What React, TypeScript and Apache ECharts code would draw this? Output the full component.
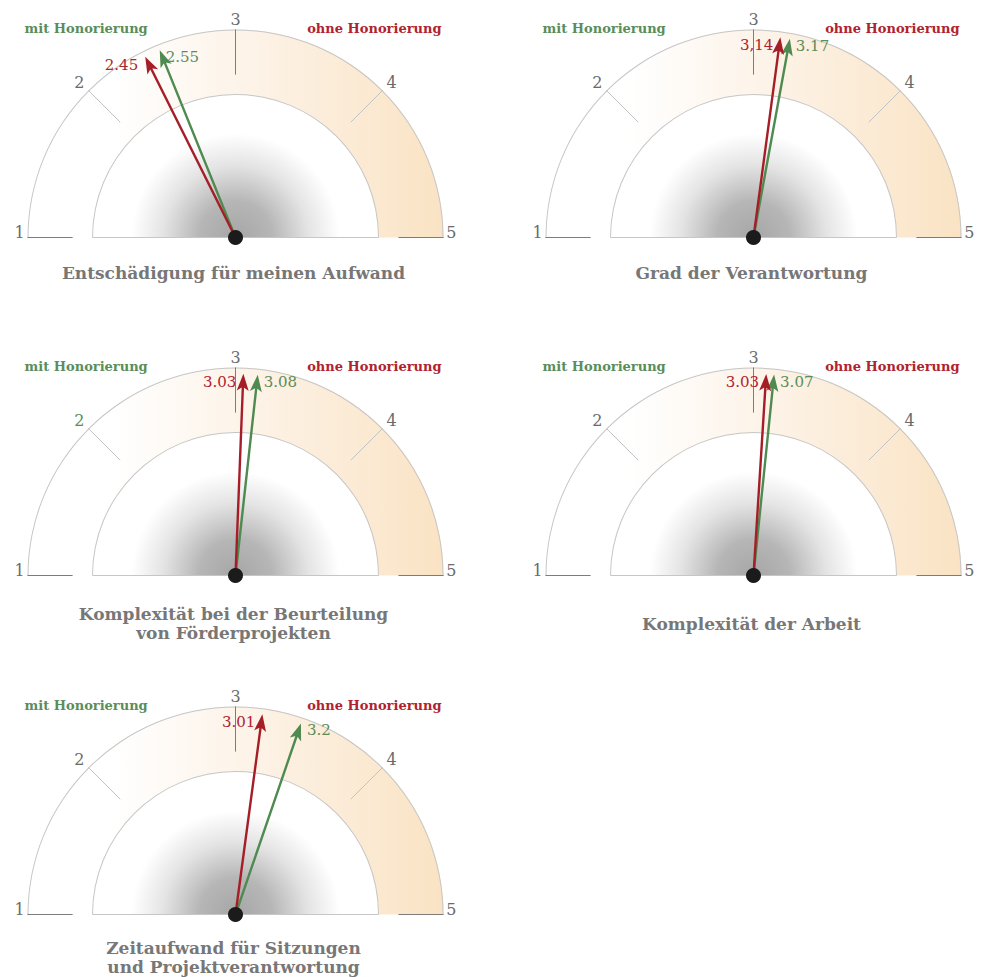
import React, { useEffect, useRef } from 'react';
import * as echarts from 'echarts';

// ---------- data ----------
const titles = [
  'Entschädigung für meinen Aufwand',
  'Grad der Verantwortung',
  'Komplexität bei der Beurteilung\nvon Förderprojekten',
  'Komplexität der Arbeit',
  'Zeitaufwand für Sitzungen\nund Projektverantwortung',
];
// needle positions as drawn
const ohneValues = [2.41, 3.17, 3.05, 3.08, 3.17];
const mitValues = [2.51, 3.23, 3.14, 3.13, 3.42];
// value labels as printed
const ohneLabels = ['2.45', '3,14', '3.03', '3.03', '3.01'];
const mitLabels = ['2.55', '3.17', '3.08', '3.07', '3.2'];
const scaleMin = 1;
const scaleMax = 5;
const tickLabels = ['1', '2', '3', '4', '5'];
const legendMit = 'mit Honorierung';
const legendOhne = 'ohne Honorierung';
const greenTick2 = [false, false, true, false, false];

// ---------- style / layout ----------
const FONT = '"DejaVu Serif", serif';
const GREEN = '#4f8a50';
const RED = '#a51e27';
const GREEN_TXT = '#5a8d5a';
const RED_TXT = '#b0232e';
const TICK_TXT = '#6b6b6b';
const CXS = [235.5, 753.5];
const CYS = [237.5, 575.5, 914.5];
const TITLE_DY = [35, 35, 48, 48, 43];
const R_OUT = 208;
const R_IN = 143;
const NEEDLE = 202;
const ARROW =
  'path://M6 0 L12 17 L6 13 L0 17 Z M4.8 12 L7.2 12 L7.2 202 L4.8 202 Z';

function baseGauge(cx: number, cy: number, r: number): any {
  return {
    type: 'gauge',
    center: [cx, cy],
    radius: r,
    startAngle: 180,
    endAngle: 0,
    min: scaleMin,
    max: scaleMax,
    splitNumber: 4,
    silent: true,
    axisLine: { show: false, lineStyle: { width: 0 } },
    splitLine: { show: false, length: 0, distance: 0 },
    axisTick: { show: false },
    axisLabel: { show: false },
    pointer: { show: false },
    anchor: { show: false },
    title: { show: false },
    detail: { show: false },
    progress: { show: false },
    data: [{ value: scaleMin }],
  };
}

function tickLabelGauge(
  cx: number,
  cy: number,
  radius: number,
  which: number[],
  padding: number[],
  greenIdx: number
): any {
  const tok = { fontSize: 16, fontFamily: FONT, padding };
  return {
    ...baseGauge(cx, cy, R_OUT),
    splitNumber: 4,
    axisLabel: {
      show: true,
      color: TICK_TXT,
      fontSize: 16,
      fontFamily: FONT,
      distance: R_OUT - radius,
      formatter: (v: number) => {
        const idx = Math.round(v) - scaleMin;
        if (which.indexOf(idx) < 0) return '';
        return (idx === greenIdx ? '{g|' : '{p|') + tickLabels[idx] + '}';
      },
      rich: {
        p: { ...tok, color: TICK_TXT },
        g: { ...tok, color: GREEN_TXT },
      },
    },
  };
}

function buildSeries(i: number, cx: number, cy: number): any[] {
  const s: any[] = [];
  // inner shaded half disc
  s.push({
    ...baseGauge(cx, cy, R_IN),
    axisLine: {
      show: true,
      lineStyle: {
        width: R_IN,
        color: [
          [
            1,
            new echarts.graphic.RadialGradient(
              cx,
              cy,
              104,
              [
                { offset: 0, color: '#a6a6a6' },
                { offset: 0.35, color: '#b6b6b6' },
                { offset: 0.7, color: '#e4e4e4' },
                { offset: 1, color: '#ffffff' },
              ],
              true
            ),
          ],
        ],
      },
    },
  });
  // coloured band
  s.push({
    ...baseGauge(cx, cy, R_OUT),
    axisLine: {
      show: true,
      lineStyle: {
        width: R_OUT - R_IN,
        color: [
          [
            1,
            new echarts.graphic.LinearGradient(
              cx - R_OUT,
              0,
              cx + R_OUT,
              0,
              [
                { offset: 0, color: '#ffffff' },
                { offset: 0.2, color: '#ffffff' },
                { offset: 0.5, color: '#fdf4ea' },
                { offset: 1, color: '#fae3c4' },
              ],
              true
            ),
          ],
        ],
      },
    },
  });
  // outer and inner outlines
  s.push({
    ...baseGauge(cx, cy, R_OUT),
    axisLine: { show: true, lineStyle: { width: 1, color: [[1, '#c6c6c6']] } },
  });
  s.push({
    ...baseGauge(cx, cy, R_IN + 0.5),
    axisLine: { show: true, lineStyle: { width: 1, color: [[1, '#c6c6c6']] } },
  });
  // base line of the inner disc
  s.push({
    ...baseGauge(cx, cy, R_IN),
    splitNumber: 1,
    splitLine: { show: true, length: R_IN, distance: 0, lineStyle: { color: '#c6c6c6', width: 1 } },
  });
  // light ticks
  s.push({
    ...baseGauge(cx, cy, R_OUT),
    splitNumber: 4,
    splitLine: { show: true, length: 45, distance: 0, lineStyle: { color: '#c2c2c2', width: 1 } },
  });
  // dark ticks at 1, 3, 5
  s.push({
    ...baseGauge(cx, cy, R_OUT),
    splitNumber: 2,
    splitLine: { show: true, length: 45, distance: 0, lineStyle: { color: '#7c7c7c', width: 1 } },
  });
  const gIdx = greenTick2[i] ? 1 : -1;
  // tick labels
  s.push(tickLabelGauge(cx, cy, 221, [0, 4], [0, 0, 10, 0], gIdx));
  s.push(tickLabelGauge(cx, cy, 228, [1, 3], [12, 0, 0, 0], gIdx));
  s.push(tickLabelGauge(cx, cy, 226, [2], [0, 0, 0, 0], gIdx));
  // needles
  const W = 60;
  const tip = (v: number) => {
    const th = (Math.PI * (scaleMax - v)) / (scaleMax - scaleMin);
    return [NEEDLE * Math.cos(th), -NEEDLE * Math.sin(th)];
  };
  const tm = tip(mitValues[i]);
  const to = tip(ohneValues[i]);
  const detailBase = {
    show: true,
    width: W,
    padding: 0,
    fontSize: 15,
    lineHeight: 17,
    fontWeight: 'normal',
    fontFamily: FONT,
    valueAnimation: false,
  };
  s.push({
    ...baseGauge(cx, cy, R_OUT),
    pointer: {
      show: true,
      icon: ARROW,
      length: NEEDLE,
      width: 12,
      offsetCenter: [0, 0],
      keepAspect: false,
    },
    anchor: { show: true, showAbove: true, size: 15, itemStyle: { color: '#1b1b1b' } },
    detail: detailBase,
    data: [
      {
        value: mitValues[i],
        itemStyle: { color: GREEN },
        detail: {
          ...detailBase,
          offsetCenter: [tm[0] + 6 + W / 2, tm[1] + 7],
          formatter: '{a|' + mitLabels[i] + '}',
          rich: { a: { align: 'left', color: GREEN_TXT, fontSize: 15, fontFamily: FONT, lineHeight: 17 } },
        },
      },
      {
        value: ohneValues[i],
        itemStyle: { color: RED },
        detail: {
          ...detailBase,
          offsetCenter: [to[0] - 7 - W / 2, to[1] + 8],
          formatter: '{a|' + ohneLabels[i] + '}',
          rich: { a: { align: 'right', color: RED_TXT, fontSize: 15, fontFamily: FONT, lineHeight: 17 } },
        },
      },
    ],
  });
  return s;
}

export default function App() {
  const ref = useRef<HTMLDivElement>(null);
  useEffect(() => {
    if (!ref.current) return;
    const chart = echarts.init(ref.current, undefined, { renderer: 'svg' });
    const series: any[] = [];
    const graphic: any[] = [];
    titles.forEach((t, i) => {
      const cx = CXS[i % 2];
      const cy = CYS[Math.floor(i / 2)];
      series.push(...buildSeries(i, cx, cy));
      graphic.push({
        type: 'text',
        x: cx - 211,
        y: cy - 209,
        silent: true,
        style: {
          text: legendMit,
          fill: GREEN_TXT,
          font: 'bold 13px ' + FONT,
          align: 'left',
          verticalAlign: 'middle',
        },
      });
      graphic.push({
        type: 'text',
        x: cx + 206,
        y: cy - 209,
        silent: true,
        style: {
          text: legendOhne,
          fill: RED_TXT,
          font: 'bold 13px ' + FONT,
          align: 'right',
          verticalAlign: 'middle',
        },
      });
      graphic.push({
        type: 'text',
        x: cx - 2,
        y: cy + TITLE_DY[i],
        silent: true,
        style: {
          text: t,
          fill: '#777777',
          font: 'bold 17px ' + FONT,
          lineHeight: 19.5,
          align: 'center',
          verticalAlign: 'middle',
        },
      });
    });
    chart.setOption({
      animation: false,
      backgroundColor: '#ffffff',
      series,
      graphic,
    });
    return () => chart.dispose();
  }, []);
  return (
    <div
      ref={ref}
      style={{ position: 'absolute', left: 0, top: 0, width: 981, height: 977 }}
    />
  );
}
